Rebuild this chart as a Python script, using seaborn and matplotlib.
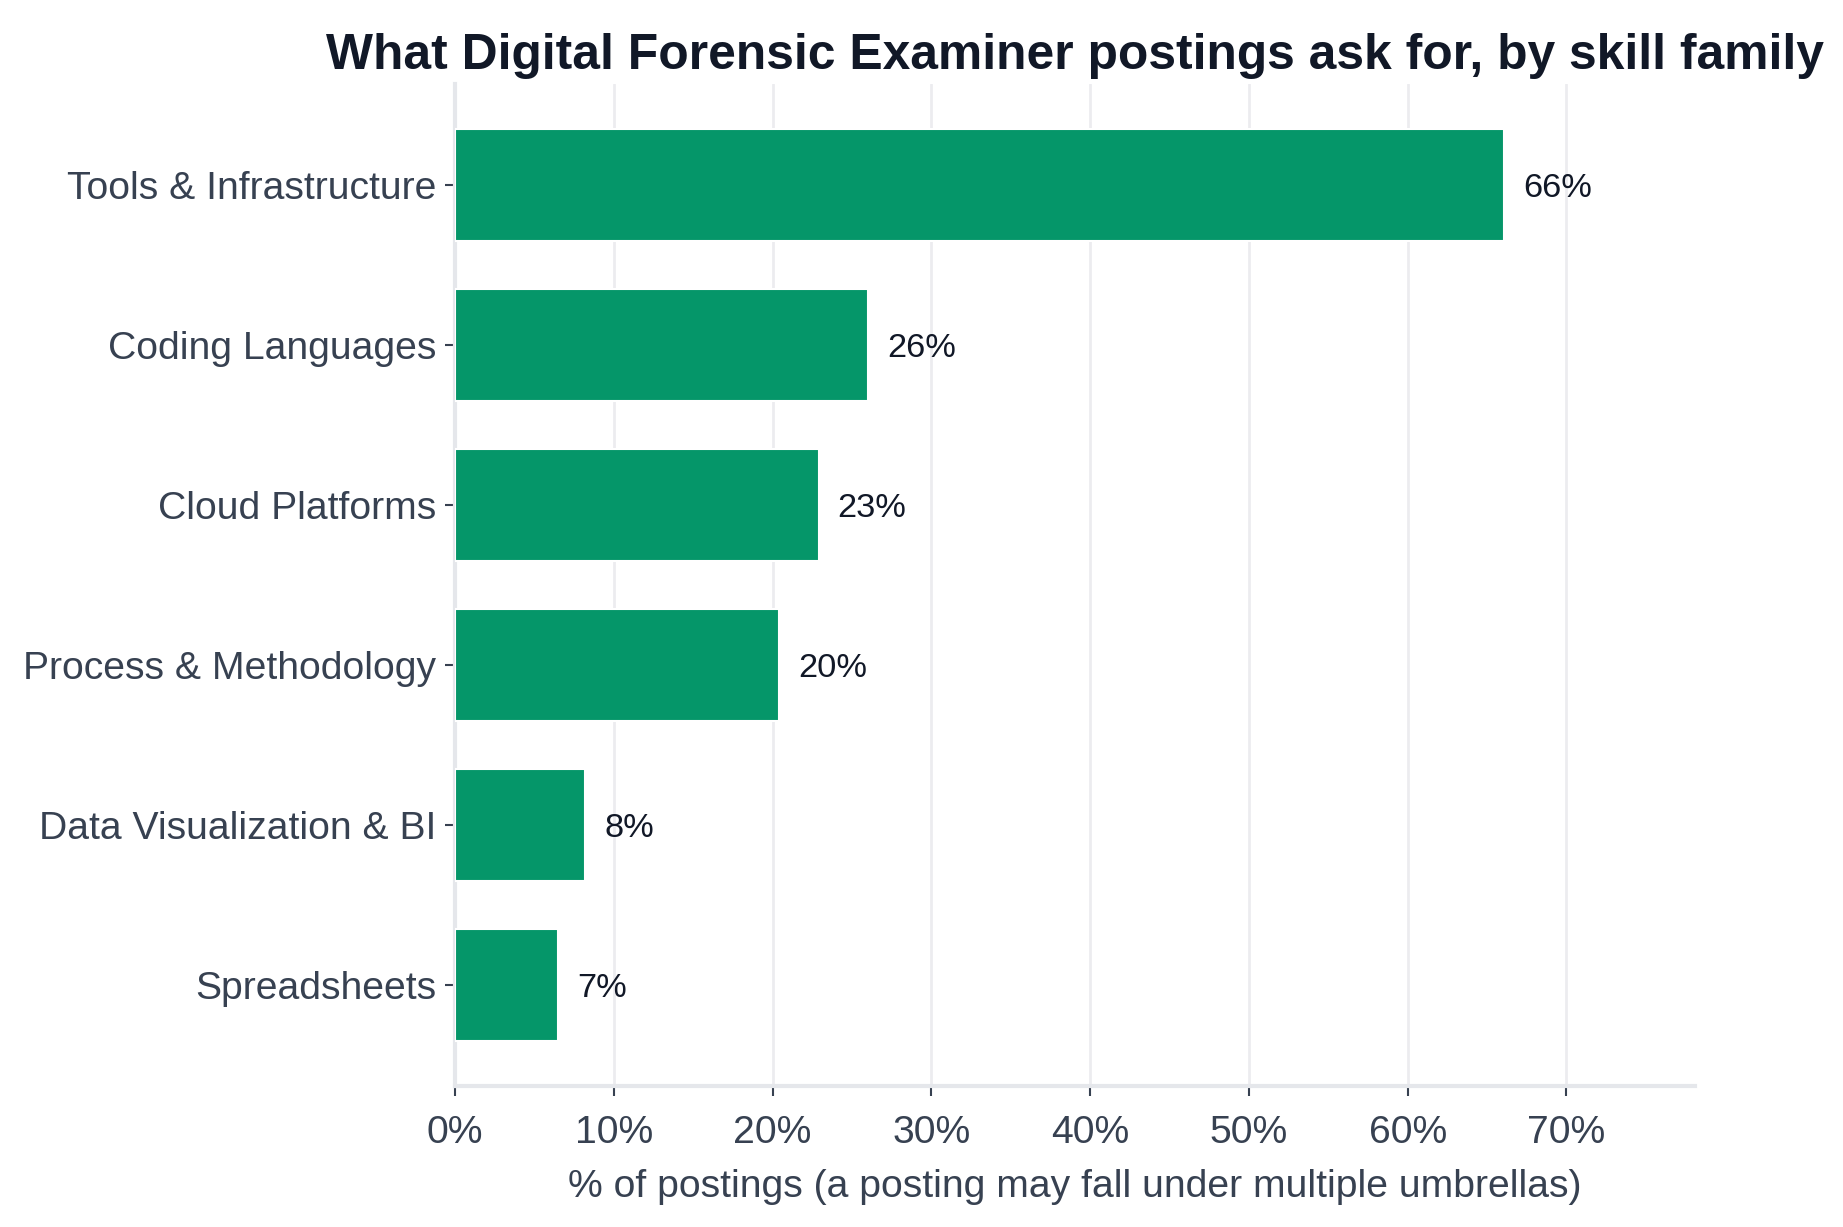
import pandas as pd
import numpy as np
import matplotlib
matplotlib.use('Agg')
import matplotlib.pyplot as plt
import seaborn as sns
from matplotlib.ticker import PercentFormatter

# Data
skills = ['Tools & Infrastructure', 'Coding Languages', 'Cloud Platforms',
          'Process & Methodology', 'Data Visualization & BI', 'Spreadsheets']
share = [66.1, 26.0, 22.9, 20.4, 8.2, 6.5]
labels = ['66%', '26%', '23%', '20%', '8%', '7%']

df = pd.DataFrame({'skill': skills, 'share': share})

sns.set_theme(style='white')
plt.rcParams['font.family'] = ['Liberation Sans', 'DejaVu Sans']

fig = plt.figure(figsize=(1843 / 150, 1227 / 150), dpi=150)
ax = fig.add_axes([0.2469, 0.1149, 0.6728, 0.8166])

sns.barplot(data=df, x='share', y='skill', orient='h', color='#059669',
            saturation=1, width=0.7, ax=ax, zorder=3)

# value labels
for i, (v, lab) in enumerate(zip(share, labels)):
    ax.text(v + 1.2, i, lab, va='center_baseline', ha='left', fontsize=16.5,
            color='#111827')

ax.set_xlim(0, 78.1)
ax.set_ylim(5.63, -0.63)
ax.set_xticks(np.arange(0, 71, 10))
ax.xaxis.set_major_formatter(PercentFormatter(decimals=0))
ax.grid(axis='x', color='#ececef', linewidth=1.3, zorder=0)
ax.set_axisbelow(True)

ax.set_ylabel('')
ax.set_xlabel('% of postings (a posting may fall under multiple umbrellas)',
              fontsize=18.8, color='#374151', labelpad=8.5)
ax.set_title('What Digital Forensic Examiner postings ask for, by skill family',
             fontsize=23.9, fontweight='bold', color='#111827', pad=7)

ax.tick_params(axis='both', which='both', length=5, width=1, color='#374151',
               labelcolor='#374151', labelsize=18.8, pad=4,
               bottom=True, left=True)
ax.tick_params(axis='x', pad=9)

for s in ['top', 'right']:
    ax.spines[s].set_visible(False)
for s in ['left', 'bottom']:
    ax.spines[s].set_color('#e5e7eb')
    ax.spines[s].set_linewidth(2)

fig.savefig('out.png', dpi=150)
